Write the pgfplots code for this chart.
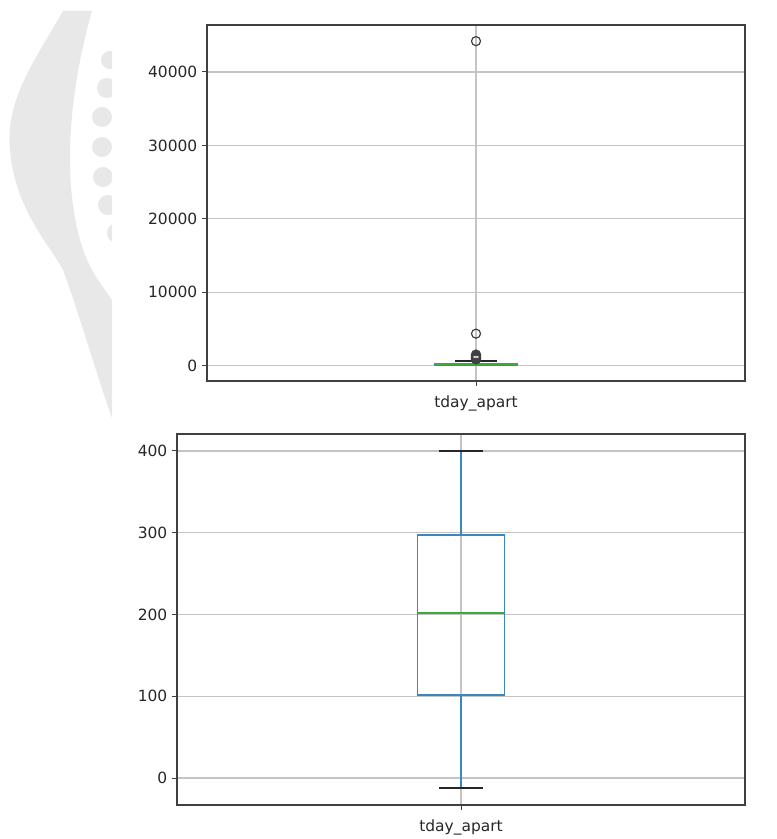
\documentclass[border=0pt]{standalone}
\usepackage{pgfplots}
\pgfplotsset{compat=1.18}
\usepgfplotslibrary{statistics}
\usepackage{fontspec}
\setmainfont{DejaVu Sans}
\definecolor{mplblue}{HTML}{3A87C0}
\definecolor{mplgreen}{HTML}{3AAA3A}
\definecolor{gridgray}{HTML}{C4C4C4}
\definecolor{txt}{HTML}{262626}
\definecolor{wm}{HTML}{E8E8E8}

\pgfplotsset{
  mybox/.style={
    scale only axis,
    xmin=0, xmax=1,
    xtick={0.5}, xticklabels={tday\_apart},
    grid=major,
    grid style={gridgray, line width=0.9pt},
    axis line style={black!75, line width=0.9pt},
    tick style={black!75, line width=0.75pt},
    tick align=outside,
    major tick length=3.75pt,
    xtick pos=left, ytick pos=left,
    tick label style={font=\fontsize{11.6}{13}\selectfont, text=txt},
    xticklabel style={yshift=-3.5pt},
    /pgf/number format/assume math mode=true,
    /pgf/number format/1000 sep={},
    scaled y ticks=false,
    boxplot/draw direction=y,
    boxplot/box extend=0.153,
    boxplot/whisker extend=0.077,
    boxplot/draw/box/.code={%
      \draw[mplblue, line width=1.2pt]
        (boxplot box cs:\pgfplotsboxplotvalue{lower quartile},0)
        rectangle (boxplot box cs:\pgfplotsboxplotvalue{upper quartile},1);
    },
    boxplot/draw/median/.code={%
      \draw[mplgreen, line width=1.1pt]
        (boxplot box cs:\pgfplotsboxplotvalue{median},0)
        -- (boxplot box cs:\pgfplotsboxplotvalue{median},1);
    },
    boxplot/draw/lower whisker/.code={%
      \draw[mplblue, line width=1.1pt]
        (boxplot box cs:\pgfplotsboxplotvalue{lower quartile},0.5)
        -- (boxplot box cs:\pgfplotsboxplotvalue{lower whisker},0.5);
      \draw[black!85, line width=1.1pt]
        (boxplot whisker cs:\pgfplotsboxplotvalue{lower whisker},0)
        -- (boxplot whisker cs:\pgfplotsboxplotvalue{lower whisker},1);
    },
    boxplot/draw/upper whisker/.code={%
      \draw[mplblue, line width=1.1pt]
        (boxplot box cs:\pgfplotsboxplotvalue{upper quartile},0.5)
        -- (boxplot box cs:\pgfplotsboxplotvalue{upper whisker},0.5);
      \draw[black!85, line width=1.1pt]
        (boxplot whisker cs:\pgfplotsboxplotvalue{upper whisker},0)
        -- (boxplot whisker cs:\pgfplotsboxplotvalue{upper whisker},1);
    },
  }
}

\begin{document}
\begin{tikzpicture}
\useasboundingbox (0,0) rectangle (582.75pt,629.25pt);
% decorative watermark
\begin{scope}[yshift=629.25pt, x=0.75pt, y=-0.75pt]
  \clip (0,0) rectangle (112,420);
  \fill[wm] (63,11) .. controls (35,60) and (5,100) .. (10,150)
    .. controls (15,210) and (50,245) .. (63,270)
    .. controls (78,310) and (95,370) .. (112,418)
    -- (112,300) .. controls (98,280) and (88,268) .. (80,240)
    .. controls (66,190) and (64,110) .. (92,11) -- cycle;
  \fill[wm] (110,60) circle (9);
  \fill[wm] (107,88) circle (10);
  \fill[wm] (102,117) circle (10);
  \fill[wm] (102,147) circle (10);
  \fill[wm] (103,177) circle (10);
  \fill[wm] (108,205) circle (10);
  \fill[wm] (117,233) circle (10);
\end{scope}

\begin{axis}[mybox,
  at={(155.25pt,343.5pt)}, anchor=south west,
  width=403.5pt, height=267pt,
  ymin=-2100, ymax=46400,
  ytick={0,10000,20000,30000,40000},
]
\addplot+[boxplot prepared={draw position=0.5,
    lower whisker=-12, lower quartile=100, median=200,
    upper quartile=300, upper whisker=600},
  mplblue, solid, mark=o, mark size=3.4pt,
  mark options={draw=black!75, fill=none, line width=0.9pt}]
  coordinates {(0,44200) (0,4350) (0,1500) (0,1350) (0,1250) (0,1150) (0,1050) (0,950) (0,850)};
\end{axis}

\begin{axis}[mybox,
  at={(132.75pt,25.5pt)}, anchor=south west,
  width=426pt, height=278.25pt,
  ymin=-33, ymax=420.8,
  ytick={0,100,200,300,400},
]
\addplot+[boxplot prepared={draw position=0.5,
    lower whisker=-12, lower quartile=101.6, median=202,
    upper quartile=297.5, upper whisker=400},
  mplblue, solid, mark=none]
  coordinates {};
\end{axis}
\end{tikzpicture}
\end{document}
